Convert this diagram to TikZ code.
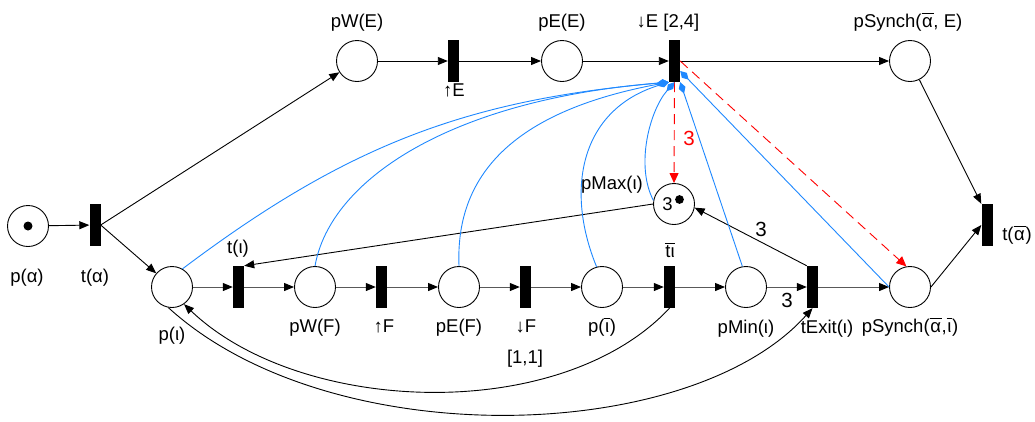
\documentclass[tikz,border=0pt]{standalone}
\usepackage{fontspec}
\setmainfont{Liberation Sans}
\usetikzlibrary{arrows.meta,calc}
\definecolor{arcblue}{RGB}{30,136,255}
\definecolor{arcred}{RGB}{255,0,0}
\newcommand\olbar[2][3.5pt]{\leavevmode\vbox{\hrule height 1pt\kern#1\hbox{\kern0.6pt#2\kern0.6pt}}}
\begin{document}
\begin{tikzpicture}[x=1pt,y=-1pt,
  font=\fontsize{18.5}{21}\selectfont,
  place/.style={circle, draw, line width=0.9pt, minimum size=41pt, inner sep=0pt},
  trans/.style={rectangle, fill=black, minimum width=11pt, minimum height=42pt, inner sep=0pt},
  lbl/.style={inner sep=0pt, text height=13pt, text depth=4pt},
  wlbl/.style={inner sep=0pt, font=\fontsize{20.5}{23}\selectfont},
  arc/.style={line width=0.9pt, -{Triangle[length=10pt,width=8pt]}},
  garc/.style={line width=1pt, draw=black!65, -{Triangle[length=10pt,width=8pt,color=black]}},
  inh/.style={draw=arcblue, line width=0.9pt, -{Diamond[length=12pt,width=7pt,color=arcblue]}},
  rarc/.style={draw=arcred, line width=0.9pt, dash pattern=on 10pt off 6pt, -{Triangle[length=10pt,width=9pt,color=arcred]}}
]
\useasboundingbox (0,0) rectangle (1035,421);

% places and transitions
\node[place] (pA) at (28,226) {};
\node[trans] (tA) at (95,225) {};
\node[place] (pWE) at (357,61) {};
\node[trans] (uE) at (453.5,61) {};
\node[place] (pEE) at (562,61) {};
\node[trans] (dE) at (674.5,61) {};
\node[place] (pSE) at (910,61) {};
\node[trans] (tAb) at (987,225) {};
\node[place] (pI) at (172,287) {};
\node[trans] (tI) at (238.5,287) {};
\node[place] (pWF) at (315,287) {};
\node[trans] (uF) at (381.5,287) {};
\node[place] (pEF) at (459,287) {};
\node[trans] (dF) at (525.5,287) {};
\node[place] (pIb) at (602,287) {};
\node[trans] (tIb) at (669.5,287) {};
\node[place] (pMin) at (746,287) {};
\node[trans] (tEx) at (812.5,287) {};
\node[place] (pSI) at (910,287) {};
\node[place] (pMax) at (674,204) {};

% tokens
\fill (pA) circle[radius=4.5];
\node[inner sep=0pt] (pMaxk) at (667.5,204) {3};
\fill ($(pMax)+(5.5,-4.5)$) circle[radius=4.4];

% labels
\node[lbl] (lpA) at (27,278) {p(α)};
\node[lbl] (ltA) at (95,278) {t(α)};
\node[lbl] (lpWE) at (357,23) {pW(E)};
\node[lbl] (luE) at (454,92) {↑E};
\node[lbl] (lpEE) at (562,23) {pE(E)};
\node[lbl] (ldE) at (668,23) {↓E [2,4]};
\node[lbl] (lpSE) at (908,23) {pSynch(\olbar{α}, E)};
\node[lbl] (ltAb) at (1017,236) {t(\olbar{α})};
\node[lbl] (ltI) at (238,249) {t(ι)};
\node[lbl] (lpI) at (172,336) {p(ι)};
\node[lbl] (lpWF) at (315,328) {pW(F)};
\node[lbl] (luF) at (384,328) {↑F};
\node[lbl] (lpEF) at (459,328) {pE(F)};
\node[lbl] (ldF) at (526,328) {↓F};
\node[lbl] (ldFi) at (525,359) {[1,1]};
\node[lbl] (lpIb) at (602,328) {p(\olbar{ι})};
\node[lbl] (ltIb) at (670,253) {\olbar[1.5pt]{tι}};
\node[lbl] (lpMin) at (746,329) {pMin(ι)};
\node[lbl] (ltEx) at (827,329) {tExit(ι)};
\node[lbl] (lpSI) at (910,328) {pSynch(\olbar{α},\olbar{ι})};
\node[lbl] (lpMax) at (612,185) {pMax(ι)};

% top row
\draw[arc] (pA) -- (tA);
\draw[arc] (tA.east) -- (pWE);
\draw[arc] (tA.east) -- (pI);
\draw[arc] (pWE) -- (uE);
\draw[arc] (uE) -- (pEE);
\draw[arc] (pEE) -- (dE);
\draw[arc] (dE) -- (pSE);
\draw[arc] (pSE) -- (tAb.north west);
\draw[arc] (pSI.east) -- (tAb.west);

% bottom row
\draw[garc] (pI) -- (tI);
\draw[garc] (tI) -- (pWF);
\draw[garc] (pWF) -- (uF);
\draw[garc] (uF) -- (pEF);
\draw[garc] (pEF) -- (dF);
\draw[garc] (dF) -- (pIb);
\draw[garc] (pIb) -- (tIb);
\draw[garc] (tIb) -- (pMin);
\draw[garc] (pMin) -- (tEx);
\draw[garc] (tEx) -- (pSI);

% pMax arcs
\draw[arc] (pMax.west) -- (tI.north east);
\draw[arc] (tEx.north west) -- (pMax.-10);
\node[wlbl] (w1) at (761,229) {3};
\node[wlbl] (w2) at (787,300) {3};

% long curved arcs
\draw[arc] (tIb.south) .. controls (560,425) and (300,415) .. (pI.-55);
\draw[arc] (pI.-100) .. controls (330,455) and (690,445) .. (tEx.south);

% red dashed arcs
\draw[rarc] (dE.south) -- (pMax.north);
\node[wlbl, text=arcred] (w3) at (689,138) {3};
\draw[rarc] (dE.east) -- (pSI.100);

% blue arcs
\draw[inh] (pI.60) to[bend left=16] (dE.south west);
\draw[inh] (pWF.north) .. controls (330,180) and (450,100) .. (dE.south west);
\draw[inh] (pEF.north) .. controls (455,170) and (520,110) .. (dE.south west);
\draw[inh] (pIb.105) .. controls (565,190) and (580,110) .. (dE.south west);
\draw[inh] (pMax.170) .. controls (635,165) and (650,110) .. (dE.south);
\draw[inh] (pMin.100) -- (dE.south east);
\draw[inh] (pSI.west) -- ($(dE.east)+(0,10)$);
\end{tikzpicture}
\end{document}
